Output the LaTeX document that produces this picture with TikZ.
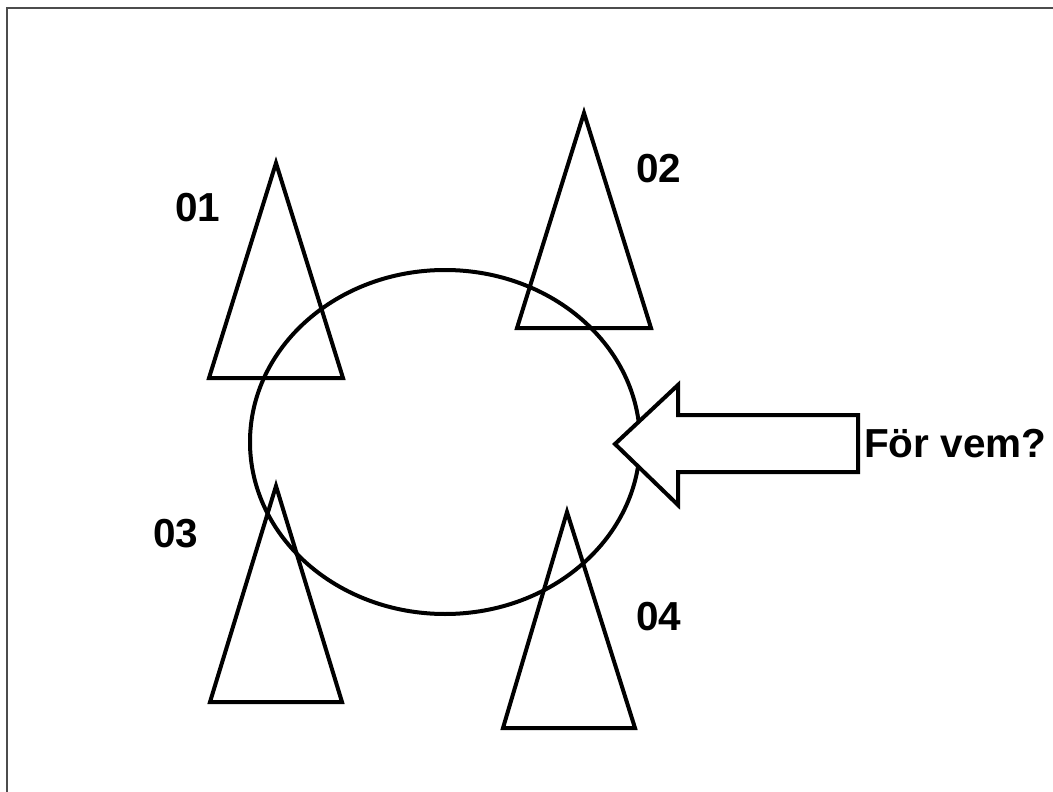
\documentclass[tikz,border=0pt]{standalone}
\usepackage{fontspec}
\setmainfont{Liberation Sans}
\begin{document}
\begin{tikzpicture}[x=1pt,y=-1pt,
  shape line/.style={line width=4pt,line join=miter,black},
  lbl/.style={font=\fontsize{40.5}{44}\selectfont\bfseries,inner sep=0pt}]
\useasboundingbox (0,0) rectangle (1053,792);
% frame
\draw[line width=2.5pt,black!70] (7,800) -- (7,8) -- (1060,8);
% ellipse
\draw[shape line] (445,442) ellipse [x radius=195, y radius=172];
% triangles
\draw[shape line] (276,163) -- (343,378) -- (209,378) -- cycle;
\draw[shape line] (584,113) -- (651,328) -- (517,328) -- cycle;
\draw[shape line] (276,486) -- (342,702) -- (210,702) -- cycle;
\draw[shape line] (567,512) -- (635,728) -- (503,728) -- cycle;
% arrow
\draw[shape line,fill=white] (615,444) -- (678,385) -- (678,415) -- (858,415)
  -- (858,472) -- (678,472) -- (678,505) -- cycle;
% labels
\node[lbl] (l01) at (198,208) {01};
\node[lbl] (l02) at (659,169) {02};
\node[lbl] (l03) at (176,534) {03};
\node[lbl] (l04) at (659,617) {04};
\node[lbl,anchor=base west] (q) at (864,457) {För vem?};
\end{tikzpicture}
\end{document}
